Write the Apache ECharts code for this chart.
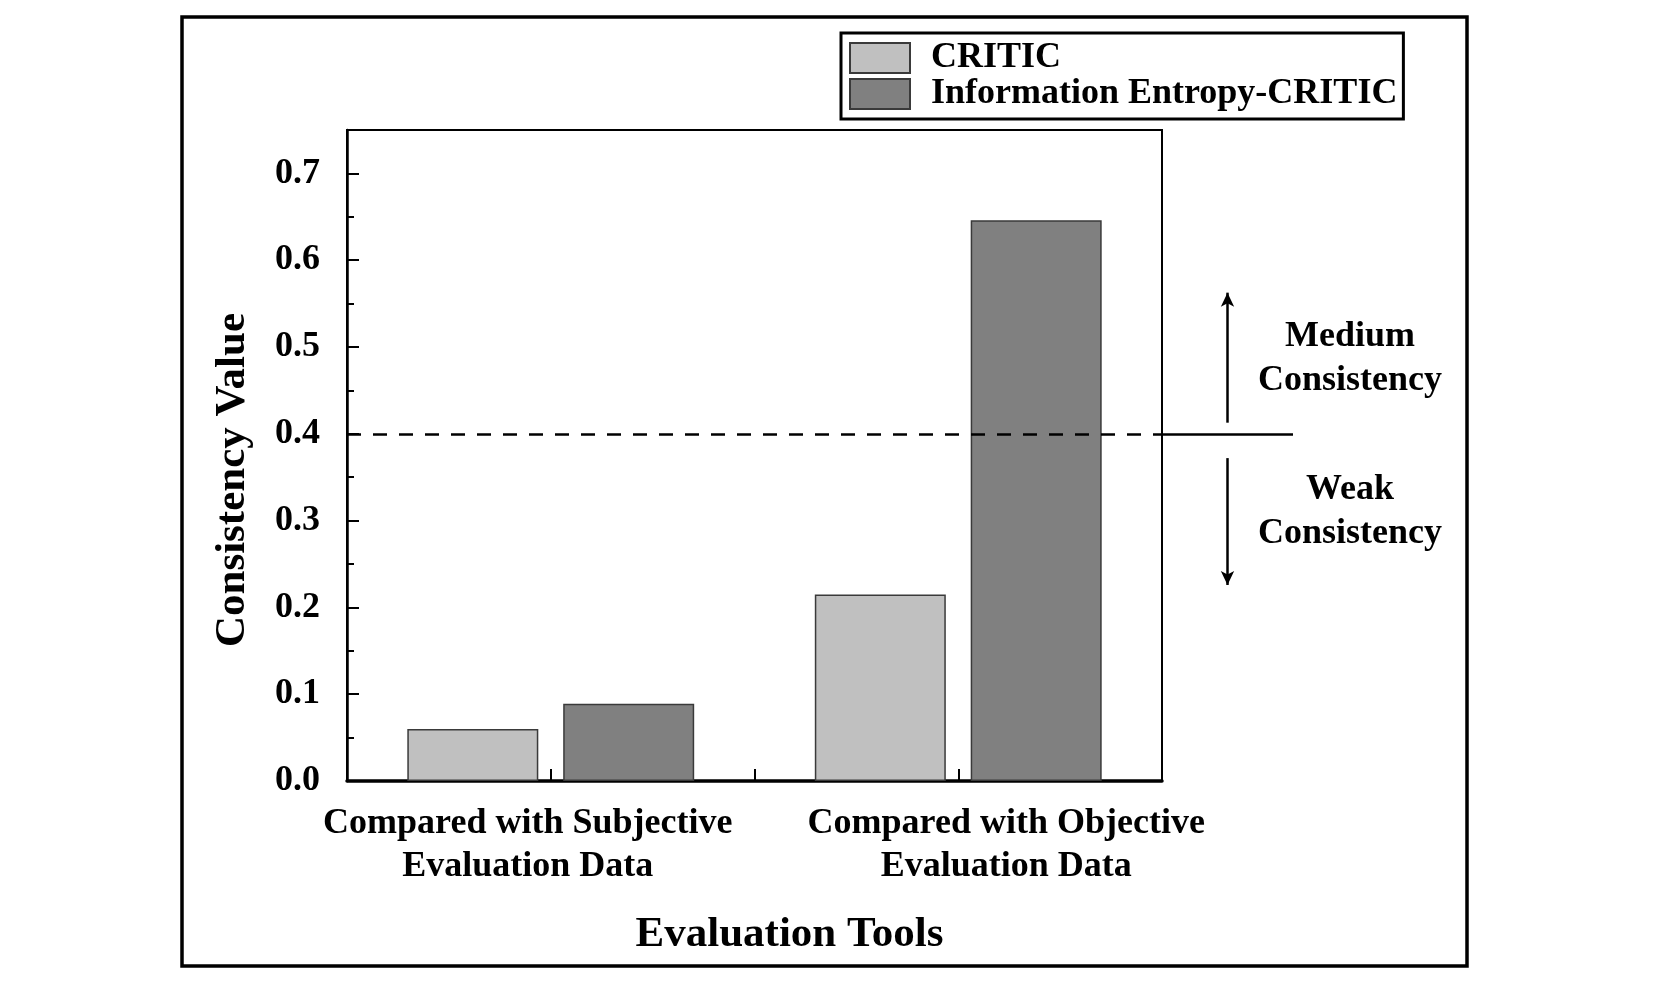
<!DOCTYPE html>
<html>
<head>
<meta charset="utf-8">
<script src="https://cdn.jsdelivr.net/npm/echarts@6/dist/echarts.min.js"></script>
<style>html,body{margin:0;padding:0;background:#fff}#c{width:1654px;height:987px}</style>
</head>
<body>
<div id="c"></div>
<script>
const categories = ['Compared with Subjective\nEvaluation Data', 'Compared with Objective\nEvaluation Data'];
const seriesNames = ['CRITIC', 'Information Entropy-CRITIC'];
const criticValues = [0.06, 0.215];
const entropyCriticValues = [0.089, 0.646];
const thresholdValue = 0.4;
const mediumArrow = [0.4128, 0.5626];
const weakArrow = [0.372, 0.2258];
const zoneLabels = ['Medium\nConsistency', 'Weak\nConsistency'];
const zoneLabelValues = [0.4868, 0.3105];

const FONT = "'Liberation Serif', 'Times New Roman', serif";
const chart = echarts.init(document.getElementById('c'));

const txt = (size) => ({ fontFamily: FONT, fontWeight: 'bold', fontSize: size, color: '#000' });

chart.setOption({
  animation: false,
  backgroundColor: '#fff',
  graphic: [{
    type: 'rect', shape: { x: 182, y: 17, width: 1285, height: 949 },
    style: { fill: 'none', stroke: '#000', lineWidth: 3.5 }, z: 100
  }],
  legend: {
    orient: 'vertical', left: 841, top: 33,
    padding: [7, 6, 7, 8],
    borderColor: '#000', borderWidth: 3,
    itemWidth: 60, itemHeight: 30, itemGap: 0,
    icon: 'rect',
    textStyle: Object.assign(txt(36), { lineHeight: 30, padding: [0, 0, 0, 16] }),
    data: seriesNames
  },
  grid: [
    { left: 347, right: 492, top: 130, bottom: 206, show: true, borderColor: '#000', borderWidth: 2, containLabel: false },
    { left: 1162, right: 361, top: 130, bottom: 206, show: false, containLabel: false }
  ],
  xAxis: [
    {
      type: 'category', gridIndex: 0, data: categories, position: 'bottom',
      axisLine: { lineStyle: { color: '#000', width: 3.5 } },
      axisTick: { show: true, inside: true, length: 12, lineStyle: { color: '#000', width: 2 } },
      axisLabel: {
        interval: 0, margin: 21,
        formatter: (v, i) => v.split('\n').map(s => '{' + (i === 0 ? 'a' : 'b') + '|' + s + '}').join('\n'),
        rich: {
          a: Object.assign(txt(36), { lineHeight: 43, padding: [0, 46, 0, 0] }),
          b: Object.assign(txt(36), { lineHeight: 43, padding: [0, 0, 0, 96] })
        }
      },
      name: 'Evaluation Tools', nameLocation: 'middle', nameGap: 132,
      nameTextStyle: Object.assign(txt(43), { padding: [0, 0, 0, 70] })
    },
    {
      type: 'category', gridIndex: 0, data: categories, position: 'bottom', offset: 0,
      axisLine: { show: false },
      axisTick: { show: true, inside: true, alignWithLabel: true, interval: 0, length: 12, lineStyle: { color: '#000', width: 2 } },
      axisLabel: { show: false }
    },
    {
      type: 'category', gridIndex: 1, data: ['zone'], show: false
    }
  ],
  yAxis: [
    {
      type: 'value', gridIndex: 0, min: 0, max: 0.75, interval: 0.1,
      axisLine: { show: true, lineStyle: { color: '#000', width: 2.5 } },
      axisTick: { show: true, inside: true, length: 12, lineStyle: { color: '#000', width: 2 } },
      minorTick: { show: true, splitNumber: 2, length: 7, lineStyle: { color: '#000', width: 2 } },
      splitLine: { show: false },
      axisLabel: Object.assign(txt(36), { margin: 27, showMaxLabel: false, formatter: v => v.toFixed(1) }),
      name: 'Consistency Value', nameLocation: 'middle', nameGap: 93,
      nameTextStyle: Object.assign(txt(43), { padding: [0, 49, 0, 0] })
    },
    {
      type: 'value', gridIndex: 1, min: 0, max: 0.75, show: false
    }
  ],
  series: [
    {
      name: seriesNames[0], type: 'bar', xAxisIndex: 0, yAxisIndex: 0,
      data: criticValues, barWidth: 131, barGap: '19%',
      itemStyle: { color: '#c0c0c0', borderColor: '#3a3a3a', borderWidth: 1.5 },
      markLine: {
        silent: true, symbol: 'none',
        label: { show: false },
        lineStyle: { color: '#000', width: 2.5, type: [14, 12] },
        data: [{ yAxis: thresholdValue }]
      }
    },
    {
      name: seriesNames[1], type: 'bar', xAxisIndex: 0, yAxisIndex: 0,
      data: entropyCriticValues, barWidth: 131, barGap: '19%',
      itemStyle: { color: '#808080', borderColor: '#3a3a3a', borderWidth: 1.5 }
    },
    {
      name: 'zones', type: 'scatter', xAxisIndex: 2, yAxisIndex: 1,
      symbolSize: 0, silent: true,
      itemStyle: { opacity: 1 },
      data: zoneLabels.map((n, i) => ({ name: n, value: ['zone', zoneLabelValues[i]] })),
      label: Object.assign(txt(36), {
        show: true, position: 'inside', offset: [122.5, 0], align: 'center', verticalAlign: 'middle',
        lineHeight: 44, formatter: p => p.name
      }),
      markLine: {
        silent: true, animation: false, symbol: 'none',
        label: { show: false },
        lineStyle: { color: '#000', width: 2.5, type: 'solid' },
        data: [
          { yAxis: thresholdValue },
          [{ coord: ['zone', mediumArrow[0]], symbol: 'none' }, { coord: ['zone', mediumArrow[1]], symbol: 'arrow', symbolSize: [10, 14] }],
          [{ coord: ['zone', weakArrow[0]], symbol: 'none' }, { coord: ['zone', weakArrow[1]], symbol: 'arrow', symbolSize: [10, 14] }]
        ]
      }
    }
  ]
});
</script>
</body>
</html>
